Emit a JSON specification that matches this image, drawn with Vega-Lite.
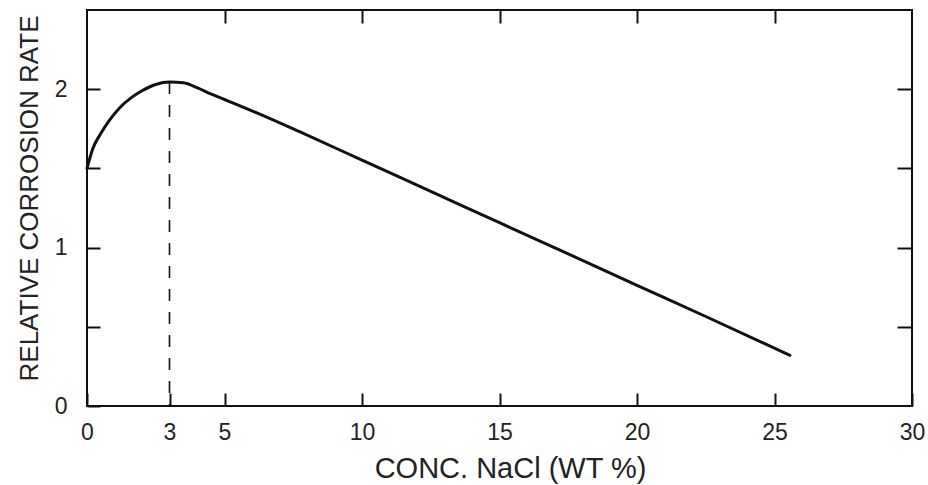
{
  "$schema": "https://vega.github.io/schema/vega-lite/v6.json",
  "width": 825,
  "height": 396,
  "autosize": {"type": "none"},
  "padding": {"left": 87, "top": 10, "right": 16, "bottom": 79},
  "background": "white",
  "config": {
    "view": {"stroke": "#111", "strokeWidth": 2},
    "axis": {
      "domain": false,
      "grid": false,
      "tickColor": "#111",
      "tickWidth": 2,
      "labelFont": "Liberation Sans",
      "titleFont": "Liberation Sans",
      "labelColor": "#222",
      "titleColor": "#222",
      "titleFontWeight": "normal"
    }
  },
  "datasets": {
    "curve": [
      {"x": 0, "y": 1.5},
      {"x": 0.2, "y": 1.62},
      {"x": 0.5, "y": 1.72},
      {"x": 0.8, "y": 1.8},
      {"x": 1.2, "y": 1.885},
      {"x": 1.6, "y": 1.945},
      {"x": 2.0, "y": 1.99},
      {"x": 2.5, "y": 2.03},
      {"x": 3.0, "y": 2.045},
      {"x": 3.5, "y": 2.04},
      {"x": 4.0, "y": 2.01},
      {"x": 4.5, "y": 1.97},
      {"x": 5.0, "y": 1.935},
      {"x": 5.5, "y": 1.9},
      {"x": 7.75, "y": 1.73},
      {"x": 10, "y": 1.552},
      {"x": 12.5, "y": 1.355},
      {"x": 15, "y": 1.157},
      {"x": 17.5, "y": 0.96},
      {"x": 20, "y": 0.762},
      {"x": 22.5, "y": 0.565},
      {"x": 25.56, "y": 0.32}
    ],
    "peak": [{"x": 3, "y": 2.045, "base": 0}]
  },
  "layer": [
    {
      "data": {"name": "curve"},
      "mark": {"type": "line", "interpolate": "monotone", "color": "#111", "strokeWidth": 3, "strokeCap": "round"},
      "encoding": {
        "x": {
          "field": "x",
          "type": "quantitative",
          "scale": {"domain": [0, 30], "nice": false, "zero": false},
          "axis": {
            "orient": "bottom",
            "values": [0, 3, 5, 10, 15, 20, 25, 30],
            "tickSize": -13,
            "labelFontSize": 23,
            "labelPadding": 28,
            "labelFlush": false,
            "title": "CONC. NaCl (WT %)",
            "titleFontSize": 29,
            "titleBaseline": "alphabetic",
            "titleAlign": "center",
            "titleX": 423,
            "titleY": 71
          }
        },
        "y": {
          "field": "y",
          "type": "quantitative",
          "scale": {"domain": [0, 2.5], "nice": false},
          "axis": {
            "orient": "left",
            "values": [0, 0.5, 1, 1.5, 2],
            "labelExpr": "datum.value % 1 === 0 ? format(datum.value, 'd') : ''",
            "tickSize": -13,
            "labelFontSize": 23,
            "labelPadding": 33,
            "labelFlush": false,
            "title": "RELATIVE CORROSION RATE",
            "titleFontSize": 26,
            "titleAngle": 270,
            "titleBaseline": "alphabetic",
            "titleAlign": "center",
            "titleX": -50,
            "titleY": 188
          }
        }
      }
    },
    {
      "data": {"name": "peak"},
      "mark": {"type": "rule", "strokeDash": [12, 11], "strokeWidth": 1.6, "color": "#111"},
      "encoding": {
        "x": {
          "field": "x",
          "type": "quantitative",
          "axis": {
            "orient": "top",
            "values": [5, 10, 15, 20, 25],
            "tickSize": -13,
            "labels": false,
            "title": null
          }
        },
        "y": {
          "field": "y",
          "type": "quantitative",
          "axis": {
            "orient": "right",
            "values": [0.5, 1, 1.5, 2],
            "tickSize": -15,
            "labels": false,
            "title": null
          }
        },
        "y2": {"field": "base"}
      }
    }
  ],
  "resolve": {"axis": {"x": "independent", "y": "independent"}}
}
